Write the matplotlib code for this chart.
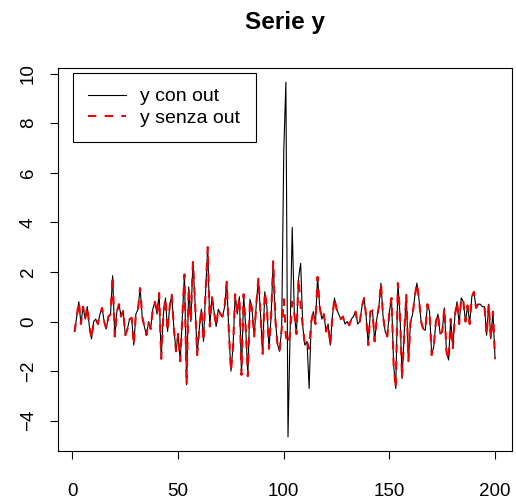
import numpy as np
import matplotlib
matplotlib.use("Agg")
import matplotlib.pyplot as plt

plt.rcParams['font.family'] = ['Liberation Sans', 'DejaVu Sans']

# series without outliers, t = 1..200
y_senza = [
    -0.4, 0.2, 0.8, -0.1, 0.6, 0.1, 0.6, -0.2, -0.7, 0.0,
    0.1, -0.1, 0.3, 0.55, 0.0, -0.3, 0.2, 0.3, 1.85, -0.6,
    0.4, 0.7, 0.2, 0.45, -0.55, -0.3, 0.1, 0.15, -0.95, 0.3,
    0.5, 1.35, 0.2, -0.2, -0.55, 0.0, -0.3, 0.5, 0.8, 0.3,
    1.15, -1.5, 0.3, 0.95, -0.4, 0.6, 1.1, -0.3, -1.2, -0.5,
    -1.6, 0.2, 1.9, -2.55, 1.4, 0.0, 2.4, 0.8, -1.35, -0.3,
    0.5, -0.8, 1.2, 3.0, -0.2, 1.0, 0.4, -0.2, 0.5, 0.3,
    0.2, 0.6, 1.6, -0.4, -2.0, -1.0, 1.1, 0.3, 1.0, -2.15,
    1.1, -0.3, -2.2, 0.9, 0.5, -0.6, 0.7, 1.75, 0.3, -1.3,
    1.2, 0.6, -1.1, 0.2, 2.45, 0.1, -0.9, -1.2, -0.3, 0.9,
    -0.6, -0.9, -0.5, 0.8, 0.3, -0.5, 1.75, 0.6, -0.2, -0.95,
    -0.8, -1.1, 0.0, 0.4, -0.1, 1.8, 0.6, 0.1, 0.3, -0.4,
    -0.1, -0.95, 0.2, 0.95, 0.5, 0.3, 0.1, 0.2, -0.1, 0.0,
    -0.15, 0.1, 0.2, 0.4, -0.1, 0.0, 0.6, 0.95, 0.2, -0.95,
    0.4, 0.45, -0.8, 0.1, 0.6, 1.55, 0.2, -0.4, -0.6, 0.4,
    0.95, -1.75, -2.7, 1.55, 0.3, -2.3, -0.5, 1.1, -1.6, 0.0,
    0.3, 1.0, 1.55, 0.9, 0.0, -0.3, -0.35, 0.7, 0.4, -1.35,
    -1.0, 0.0, 0.3, -0.5, -0.4, 0.55, -1.2, -1.55, 0.1, -1.1,
    0.25, 0.8, -0.1, 0.95, 0.8, 0.0, 0.65, -0.1, 1.0, 1.2,
    0.55, 0.7, 0.7, 0.6, 0.6, -0.55, 0.7, -0.7, 0.4, -1.5,
]

# outlying observations (time index, value)
out_t = [100, 101, 102, 104, 108, 112]
out_val = [6.9, 9.65, -4.65, 3.8, 2.35, -2.7]

t = np.arange(1, len(y_senza) + 1)
y_con = np.array(y_senza, dtype=float)
for ti, v in zip(out_t, out_val):
    y_con[ti - 1] = v

fig = plt.figure(figsize=(5.16, 5.04), dpi=100)
ax = fig.add_axes([0.112, 0.105, 0.880, 0.760])

ax.plot(t, y_con, color="black", lw=0.8, label="y con out")
ax.plot(t, y_senza, color="#ee0000", lw=1.5, ls=(0, (4, 4)), label="y senza out")

# R-style 4% padding
ymin, ymax = min(y_con.min(), min(y_senza)), max(y_con.max(), max(y_senza))
pad = 0.04 * (ymax - ymin)
ax.set_ylim(ymin - pad, ymax + pad)
xpad = 0.04 * (t[-1] - t[0])
ax.set_xlim(t[0] - xpad, t[-1] + xpad)

ax.set_xticks([0, 50, 100, 150, 200])
ax.set_yticks([-4, -2, 0, 2, 4, 6, 8, 10])
ax.tick_params(axis="both", direction="out", length=6, width=0.8, labelsize=13.5)
ax.tick_params(axis="x", pad=17)
ax.tick_params(axis="y", pad=9)
for lab in ax.get_yticklabels():
    lab.set_rotation(90)
    lab.set_va("center")
for s in ax.spines.values():
    s.set_linewidth(0.8)

leg = ax.legend(loc="upper left", bbox_to_anchor=(0.033, 0.988), fontsize=14,
                frameon=True, fancybox=False, edgecolor="black", framealpha=1,
                handlelength=1.95, borderpad=0.78, labelspacing=0.22, handletextpad=0.75,
                borderaxespad=0)
leg.get_frame().set_linewidth(0.8)

fig.text(0.552, 1 - 22 / 504, "Serie y", ha="center", va="center",
         fontsize=17.5, fontweight="bold")

fig.savefig("out.png", dpi=100)
